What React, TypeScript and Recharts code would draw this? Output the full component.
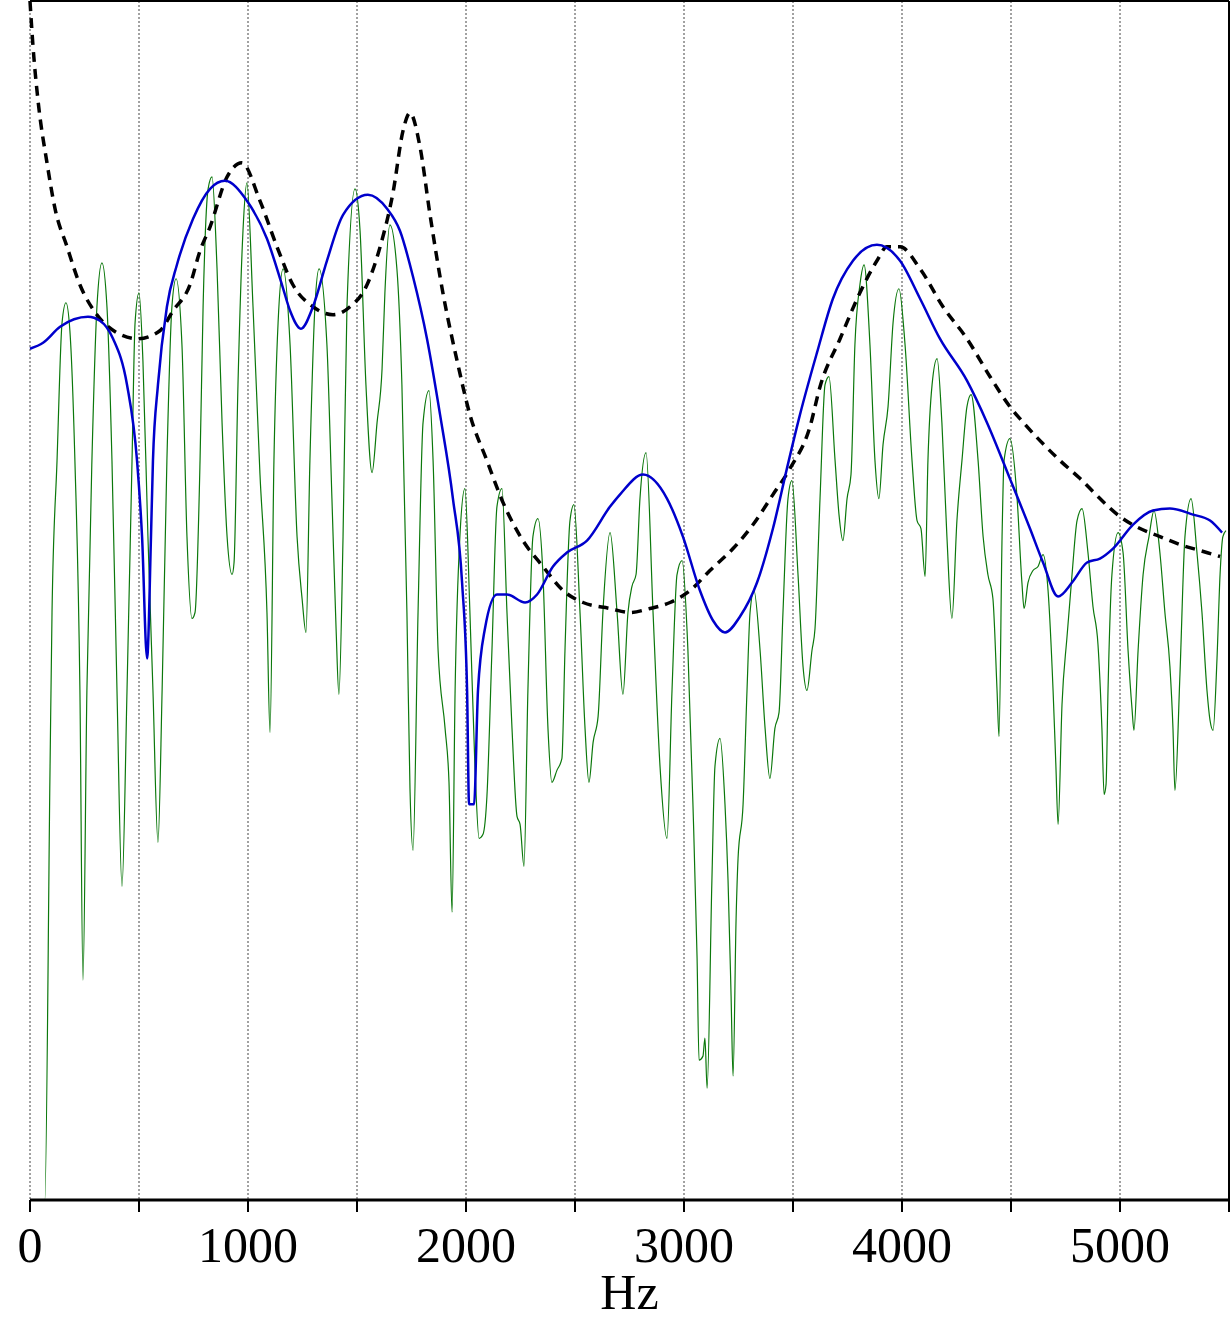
import { LineChart, Line, XAxis, YAxis, CartesianGrid, ReferenceLine } from 'recharts';

// harmonic spectrum [Hz, dB]
const spectrum: [number, number][] = [
  [0, -60], [68, -60], [92, -38.3], [101, -30.6], [124, -23.0], [147, -16.1], [165, -15.1],
  [183, -16.5], [206, -23.0], [229, -34.5], [243, -49.0], [261, -34.5], [284, -23.0], [307, -15.3],
  [330, -13.1], [353, -15.3], [376, -23.0], [399, -34.5], [422, -44.3], [445, -34.5], [468, -23.0],
  [482, -16.1], [500, -14.6], [518, -18.0], [541, -26.8], [564, -34.5], [587, -42.1], [606, -34.5],
  [628, -23.0], [651, -15.3], [670, -13.9], [697, -17.2], [720, -26.8], [743, -30.9], [757, -30.6],
  [780, -23.0], [794, -15.3], [817, -9.4], [835, -8.8], [858, -13.4], [881, -21.1], [904, -26.8],
  [927, -28.7], [936, -28.1], [954, -19.2], [977, -11.5], [995, -9.1], [1023, -15.3], [1055, -23.7],
  [1087, -30.6], [1101, -36.6], [1119, -23.0], [1138, -16.1], [1161, -13.4], [1193, -17.2],
  [1225, -26.8], [1248, -29.9], [1266, -31.6], [1284, -23.0], [1307, -15.3], [1326, -13.4],
  [1362, -17.2], [1385, -24.9], [1404, -31.4], [1417, -34.7], [1436, -26.8], [1454, -15.3],
  [1491, -9.4], [1514, -11.5], [1541, -19.2], [1569, -23.6], [1592, -21.1], [1615, -18.4],
  [1628, -14.6], [1651, -11.2], [1683, -13.4], [1706, -19.2], [1729, -30.6], [1743, -39.4],
  [1757, -42.5], [1780, -30.6], [1803, -21.1], [1830, -19.5], [1849, -23.0], [1872, -32.5],
  [1904, -36.4], [1922, -39.1], [1936, -45.6], [1950, -34.5], [1972, -26.8], [1995, -24.4],
  [2018, -30.6], [2041, -38.3], [2060, -41.9], [2078, -41.7], [2096, -39.8], [2119, -32.5],
  [2142, -25.3], [2165, -24.4], [2188, -30.6], [2211, -36.4], [2234, -40.8], [2248, -41.2],
  [2266, -43.3], [2284, -34.5], [2307, -26.8], [2330, -25.9], [2353, -28.7], [2376, -36.4],
  [2394, -39.1], [2417, -38.5], [2440, -37.9], [2454, -32.5], [2477, -26.0], [2495, -25.2],
  [2523, -30.6], [2546, -36.4], [2564, -39.1], [2583, -37.1], [2606, -35.8], [2628, -30.6],
  [2661, -26.6], [2693, -30.6], [2720, -34.7], [2743, -30.6], [2761, -29.3], [2780, -28.7],
  [2798, -24.9], [2826, -22.6], [2858, -30.6], [2890, -38.3], [2922, -41.9], [2945, -34.5],
  [2968, -28.7], [2991, -28.0], [3018, -32.5], [3041, -40.2], [3060, -47.9], [3069, -53.0],
  [3087, -52.8], [3096, -51.9], [3106, -54.4], [3128, -44.0], [3142, -38.3], [3165, -36.9],
  [3188, -40.2], [3202, -44.0], [3216, -49.8], [3225, -53.8], [3239, -45.9], [3248, -42.9],
  [3271, -40.2], [3289, -34.5], [3303, -30.6], [3321, -29.5], [3349, -32.5], [3372, -36.4],
  [3394, -38.9], [3417, -36.4], [3436, -35.6], [3454, -30.6], [3477, -24.9], [3495, -24.0],
  [3523, -28.7], [3546, -33.3], [3564, -34.5], [3587, -32.5], [3601, -31.4], [3624, -24.9],
  [3647, -19.2], [3665, -18.8], [3693, -23.0], [3711, -25.7], [3729, -27.0], [3748, -24.9],
  [3766, -23.7], [3784, -17.2], [3807, -14.2], [3826, -13.2], [3853, -17.2], [3876, -23.0],
  [3894, -24.9], [3913, -22.2], [3936, -20.3], [3959, -16.1], [3986, -14.4], [4014, -17.2],
  [4046, -23.0], [4069, -26.0], [4087, -26.4], [4106, -28.8], [4119, -23.0], [4138, -19.2],
  [4161, -17.9], [4183, -21.1], [4206, -26.8], [4229, -30.9], [4252, -26.0], [4275, -23.0],
  [4298, -20.3], [4317, -19.7], [4349, -23.0], [4372, -26.8], [4394, -28.7], [4417, -29.9],
  [4436, -34.5], [4445, -36.8], [4459, -26.8], [4468, -23.0], [4495, -21.9], [4528, -24.9],
  [4550, -29.1], [4560, -30.4], [4578, -29.1], [4601, -28.5], [4624, -28.3], [4647, -27.7],
  [4670, -29.5], [4693, -34.5], [4706, -38.3], [4716, -41.2], [4734, -35.2], [4757, -31.8],
  [4780, -28.7], [4803, -26.0], [4826, -25.4], [4853, -27.6], [4876, -30.3], [4899, -32.2],
  [4917, -36.4], [4927, -39.7], [4936, -39.2], [4945, -34.5], [4963, -28.7], [4991, -26.6],
  [5014, -27.6], [5037, -32.5], [5055, -35.4], [5064, -36.5], [5083, -32.5], [5106, -28.7],
  [5133, -26.8], [5156, -25.5], [5183, -27.6], [5206, -30.6], [5229, -33.3], [5243, -36.4],
  [5252, -39.5], [5275, -33.7], [5298, -26.8], [5326, -24.9], [5353, -27.6], [5376, -30.6],
  [5399, -34.5], [5413, -36.0], [5427, -36.5], [5445, -32.9], [5459, -28.7], [5472, -26.8],
  [5486, -26.5],
];

// smoothed envelope (blue)
const envelope: [number, number][] = [
  [0, -17.4], [60, -17.1], [138, -16.3], [266, -15.8], [321, -16.0], [381, -16.9], [445, -19.2],
  [491, -23.0], [514, -26.8], [537, -32.9], [555, -26.8], [564, -23.0], [587, -19.2], [628, -15.3],
  [674, -13.2], [748, -10.9], [826, -9.4], [894, -9.0], [995, -10.0], [1087, -11.9], [1156, -14.2],
  [1193, -15.5], [1243, -16.4], [1298, -15.3], [1362, -13.0], [1436, -10.7], [1550, -9.7],
  [1638, -10.4], [1697, -11.5], [1757, -13.8], [1821, -16.9], [1881, -20.7], [1940, -24.9],
  [1982, -29.1], [2005, -34.5], [2014, -40.2], [2037, -40.2], [2055, -34.5], [2087, -31.4],
  [2142, -29.7], [2188, -29.7], [2271, -30.1], [2326, -29.7], [2399, -28.3], [2463, -27.6],
  [2555, -27.0], [2661, -25.3], [2706, -24.7], [2812, -23.7], [2922, -24.9], [2995, -26.8],
  [3073, -29.5], [3133, -31.0], [3188, -31.6], [3257, -30.8], [3335, -29.1], [3408, -26.4],
  [3472, -23.4], [3532, -20.7], [3610, -17.6], [3683, -14.9], [3775, -13.0], [3885, -12.2],
  [3991, -13.0], [4083, -14.9], [4174, -16.9], [4298, -19.0], [4390, -21.1], [4495, -23.9],
  [4587, -26.4], [4647, -28.1], [4716, -29.8], [4780, -29.1], [4849, -28.1], [4908, -27.9],
  [4968, -27.4], [5060, -26.2], [5151, -25.5], [5229, -25.4], [5335, -25.7], [5413, -26.0],
  [5468, -26.6],
];

// model envelope (dashed)
const model: [number, number][] = [
  [0, 0], [14, -2.3], [37, -5.0], [78, -8.1], [115, -10.4], [170, -12.3], [229, -14.2],
  [307, -15.7], [399, -16.6], [495, -16.9], [596, -16.5], [656, -15.5], [734, -14.2], [780, -12.5],
  [826, -11.3], [904, -8.8], [972, -8.1], [1055, -10.0], [1133, -12.3], [1206, -14.2], [1298, -15.3],
  [1390, -15.7], [1468, -15.3], [1546, -14.2], [1606, -12.3], [1665, -9.6], [1711, -6.5],
  [1743, -5.6], [1789, -7.3], [1835, -10.7], [1894, -14.6], [1959, -18.0], [2018, -20.7],
  [2096, -23.0], [2170, -25.1], [2261, -27.0], [2353, -28.3], [2445, -29.5], [2537, -30.1],
  [2661, -30.4], [2752, -30.6], [2844, -30.4], [2936, -30.1], [3028, -29.5], [3119, -28.5],
  [3225, -27.4], [3317, -26.2], [3408, -24.7], [3486, -23.4], [3578, -21.3], [3624, -19.3],
  [3716, -16.9], [3807, -14.6], [3885, -13.0], [3931, -12.3], [3991, -12.3], [4083, -13.4],
  [4188, -15.3], [4298, -16.9], [4404, -18.8], [4495, -20.3], [4541, -20.9], [4633, -22.0],
  [4725, -23.0], [4817, -23.9], [4908, -24.9], [5000, -25.8], [5092, -26.4], [5183, -26.8],
  [5275, -27.2], [5367, -27.5], [5459, -27.8],
];

const xTicks = [0, 500, 1000, 1500, 2000, 2500, 3000, 3500, 4000, 4500, 5000, 5500];

const toRows = (pts: [number, number][]) => pts.map(([hz, db]) => ({ hz, db }));

const FONT = '"Liberation Serif", "Times New Roman", serif';

export default function App() {
  return (
    <div style={{ position: 'absolute', left: 0, top: 0, fontFamily: FONT }}>
      <LineChart width={1230} height={1320} margin={{ top: 1, right: 1, left: 30, bottom: 0 }}>
        <CartesianGrid horizontal={false} stroke="#444" strokeDasharray="2 2" strokeWidth={1} />
        <XAxis
          type="number"
          dataKey="hz"
          domain={[0, 5500]}
          ticks={xTicks}
          height={120}
          stroke="#000"
          axisLine={{ stroke: '#000', strokeWidth: 3 }}
          tickLine={{ stroke: '#000', strokeWidth: 2 }}
          tickSize={12}
          tickMargin={14}
          tickFormatter={(v: number) => (v % 1000 === 0 ? String(v) : '')}
          tick={{ fill: '#000', fontSize: 50, fontFamily: FONT }}
          label={{ value: 'Hz', position: 'insideBottom', offset: 11, fill: '#000', fontSize: 50, fontFamily: FONT }}
          allowDuplicatedCategory={false}
        />
        <YAxis
          type="number"
          domain={[-60, 0]}
          width={0}
          tick={false}
          tickLine={false}
          axisLine={{ stroke: '#000', strokeWidth: 3 }}
        />
        <ReferenceLine y={0} stroke="#000" strokeWidth={2} />
        <ReferenceLine x={5500} stroke="#000" strokeWidth={2} />
        <Line
          data={toRows(spectrum)}
          dataKey="db"
          type="monotone"
          stroke="#0b780b"
          strokeWidth={1.2}
          dot={false}
          isAnimationActive={false}
        />
        <Line
          data={toRows(model)}
          dataKey="db"
          type="monotone"
          stroke="#000"
          strokeWidth={3.5}
          strokeDasharray="10 7"
          dot={false}
          isAnimationActive={false}
        />
        <Line
          data={toRows(envelope)}
          dataKey="db"
          type="monotone"
          stroke="#0000cc"
          strokeWidth={2.5}
          dot={false}
          isAnimationActive={false}
        />
      </LineChart>
    </div>
  );
}
